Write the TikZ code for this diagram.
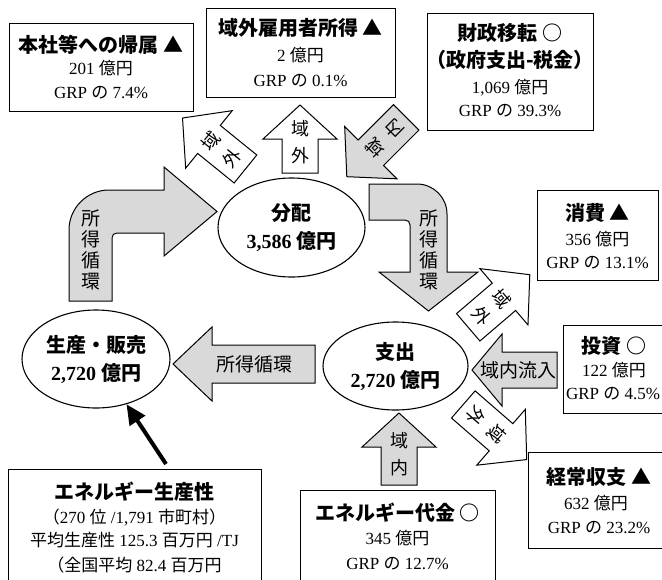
\documentclass[tikz,border=0pt]{standalone}
\usepackage{fontspec}
\setmainfont{Liberation Serif}
\newfontfamily\cjk{Noto Sans CJK JP}
\usetikzlibrary{shapes.geometric,arrows.meta}
\newcommand\J[1]{{\cjk #1}}
\newcommand\smallarr[8]{%
  \begin{scope}[shift={(#1,#2)},rotate=#3]
    \draw[#5] (0,-#4/2) -- (37,-#4/2+34) -- (18,-#4/2+34) -- (18,#4/2) -- (-18,#4/2) -- (-18,-#4/2+34) -- (-37,-#4/2+34) -- cycle;
    \node[atxt,rotate=#3] (#8a) at (0,#4/2-44) {#6};
    \node[atxt,rotate=#3] (#8b) at (0,#4/2-17) {#7};
  \end{scope}}
\begin{document}
\begin{tikzpicture}[x=1pt,y=-1pt,
  frame/.style={draw, line width=0.8pt, inner sep=0pt},
  ttl/.style={inner sep=0pt, font=\fontsize{20}{24}\selectfont\bfseries, text height=17pt, text depth=3pt},
  body/.style={inner sep=0pt, font=\fontsize{17}{21}\selectfont, text height=14.5pt, text depth=2.5pt},
  ell/.style={draw, ellipse, line width=1.1pt, inner sep=0pt, align=center, font=\fontsize{20}{28}\selectfont\bfseries},
  garr/.style={draw, line width=1pt, fill=black!15, line join=miter},
  warr/.style={draw, line width=1pt, fill=white, line join=miter},
  atxt/.style={inner sep=0pt, font=\fontsize{18}{21}\selectfont\cjk},
  vtxt/.style={inner sep=0pt, align=center, font=\fontsize{19}{21}\selectfont\cjk},
  htxt/.style={inner sep=0pt, font=\fontsize{19}{21}\selectfont\cjk},
]
\useasboundingbox (0,0) rectangle (662,579);
\clip (0,0) rectangle (662,579);

% ---------- boxes ----------
\node[frame, minimum width=184pt, minimum height=88pt] (B1) at (101,67) {};
\node[ttl] (B1t) at (101,45) {\J{本社等への帰属 ▲}};
\node[body] (B1a) at (101,68) {201 \J{億円}};
\node[body] (B1b) at (101,92) {GRP \J{の} 7.4\%};

\node[frame, minimum width=189pt, minimum height=89pt] (B2) at (300.5,52.5) {};
\node[ttl] (B2t) at (300.5,28) {\J{域外雇用者所得 ▲}};
\node[body] (B2a) at (300.5,55) {2 \J{億円}};
\node[body] (B2b) at (300.5,80) {GRP \J{の} 0.1\%};

\node[frame, minimum width=166pt, minimum height=117pt] (B3) at (510,71.5) {};
\node[ttl] (B3t) at (510,33) {\J{財政移転 ○}};
\node[ttl] (B3u) at (510,60) {\J{（政府支出-税金）}};
\node[body] (B3a) at (510,87) {1,069 \J{億円}};
\node[body] (B3b) at (510,110) {GRP \J{の} 39.3\%};

\node[frame, minimum width=121pt, minimum height=90pt] (B4) at (597.5,235) {};
\node[ttl] (B4t) at (597.5,213) {\J{消費 ▲}};
\node[body] (B4a) at (597.5,239) {356 \J{億円}};
\node[body] (B4b) at (597.5,262) {GRP \J{の} 13.1\%};

\node[frame, minimum width=109pt, minimum height=88pt] (B5) at (617.5,369) {};
\node[ttl] (B5t) at (614,346) {\J{投資 ○}};
\node[body] (B5a) at (614,370) {122 \J{億円}};
\node[body] (B5b) at (613,393) {GRP \J{の} 4.5\%};

\node[frame, minimum width=144pt, minimum height=96pt] (B6) at (600,500) {};
\node[ttl] (B6t) at (599,477) {\J{経常収支 ▲}};
\node[body] (B6a) at (596,503) {632 \J{億円}};
\node[body] (B6b) at (599,527) {GRP \J{の} 23.2\%};

\node[frame, minimum width=195pt, minimum height=105pt] (B7) at (397.5,542.5) {};
\node[ttl] (B7t) at (397.5,513) {\J{エネルギー代金 ○}};
\node[body] (B7a) at (397.5,538) {345 \J{億円}};
\node[body] (B7b) at (397.5,563) {GRP \J{の} 12.7\%};

\node[frame, minimum width=253pt, minimum height=126pt] (B8) at (134.5,532) {};
\node[ttl] (B8t) at (134.5,492) {\J{エネルギー生産性}};
\node[body] (B8a) at (134.5,517) {\J{（}270 \J{位} /1,791 \J{市町村）}};
\node[body] (B8b) at (134.5,540) {\J{平均生産性} 125.3 \J{百万円} /TJ};
\node[body] (B8c) at (134.5,565) {\J{（全国平均} 82.4 \J{百万円}};

% ---------- ellipses ----------
\node[ell, minimum width=147pt, minimum height=99pt] (dist) at (291.5,227.5) {\J{分配}\\3,586 \J{億円}};
\node[ell, minimum width=148pt, minimum height=98pt] (prod) at (96,359) {\J{生産・販売}\\2,720 \J{億円}};
\node[ell, minimum width=145pt, minimum height=88pt] (spend) at (395.5,366) {\J{支出}\\2,720 \J{億円}};

% ---------- black arrow ----------
\coordinate (bk) at (166,464);
\draw[line width=4pt, -{Triangle[length=20pt,width=18pt]}] (bk) -- (prod.-56);

% ---------- big block arrows ----------
\draw[garr] (69,301) -- (69,230) .. controls (69,208) and (87,190) .. (109,190) -- (164,190) -- (164,167) -- (217,211.5) -- (164,256) -- (164,233) -- (117,233) .. controls (114,233) and (112,235) .. (112,238) -- (112,301) -- cycle;
\node[vtxt] (Lt) at (90.5,250) {所\\得\\循\\環};

\draw[garr] (369,184) -- (417,184) .. controls (433.5,184) and (447,197.5) .. (447,214) -- (447,272) -- (478,272) -- (428.5,311) -- (379,272) -- (410,272) -- (410,225) .. controls (410,222) and (408,220) .. (405,220) -- (369,220) -- cycle;
\node[vtxt] (Rt) at (428.5,250) {所\\得\\循\\環};

\draw[garr] (315,345) -- (212,345) -- (212,327) -- (173,364) -- (212,401) -- (212,383) -- (315,383) -- cycle;
\node[htxt] (Ht) at (254,364) {所得循環};

\draw[garr] (557,352) -- (502,352) -- (502,334) -- (472,370) -- (502,406) -- (502,388) -- (557,388) -- cycle;
\node[htxt] (Et) at (518,370) {域内流入};

% ---------- small arrows ----------
\smallarr{214}{143.5}{51}{81}{warr}{域}{外}{sa}
\smallarr{300}{139}{0}{68}{warr}{域}{外}{sb}
\smallarr{376.5}{147}{135}{84}{garr}{域}{内}{sc}
\smallarr{499}{301}{-49.5}{81}{warr}{域}{外}{sd}
\smallarr{495}{432}{-131}{84}{warr}{域}{外}{sf}
\smallarr{399}{449}{0}{72}{garr}{域}{内}{sg}
\end{tikzpicture}
\end{document}
